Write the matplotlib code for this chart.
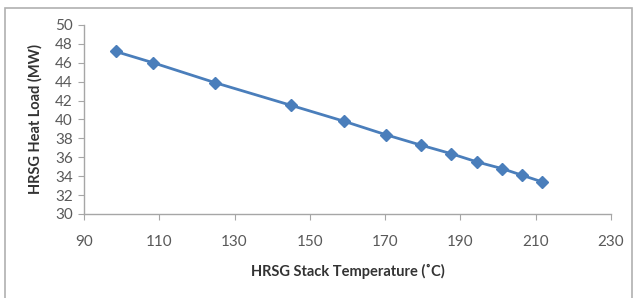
import matplotlib
matplotlib.use('Agg')
from matplotlib import pyplot as plt
from matplotlib.patches import Rectangle

# HRSG stack temperature (C) vs heat load (MW)
stack_temp = [98.4, 108.4, 124.8, 145.0, 159.2, 170.1, 179.4, 187.4, 194.5, 201.1, 206.4, 211.7]
heat_load = [47.2, 46.0, 43.9, 41.5, 39.8, 38.4, 37.3, 36.4, 35.5, 34.8, 34.1, 33.4]

x_ticks = [90, 110, 130, 150, 170, 190, 210, 230]
y_ticks = [30, 32, 34, 36, 38, 40, 42, 44, 46, 48, 50]

plt.rcParams['font.family'] = ['Lato', 'DejaVu Sans']

fig = plt.figure(figsize=(6.34, 2.98), dpi=100)
fig.patch.set_facecolor('white')

# outer chart frame
fig.patches.append(Rectangle((5 / 634, -0.05), 627 / 634, 1.05 - 8 / 298,
                             transform=fig.transFigure, fill=False,
                             edgecolor='#b0b0b0', linewidth=1.2))

ax = fig.add_axes([84 / 634, 1 - 214 / 298, 527 / 634, 189 / 298])
ax.plot(stack_temp, heat_load, color='#4a7ebb', linewidth=2.0,
        marker='D', markersize=6, markerfacecolor='#4a7ebb', markeredgecolor='#4a7ebb')

ax.set_xlim(90, 230)
ax.set_ylim(30, 50)
ax.set_xticks(x_ticks)
ax.set_yticks(y_ticks)

for side in ['top', 'right']:
    ax.spines[side].set_visible(False)
for side in ['left', 'bottom']:
    ax.spines[side].set_color('#a6a6a6')
    ax.spines[side].set_linewidth(1.0)

ax.tick_params(axis='both', direction='out', color='#a6a6a6', length=4,
               labelsize=11, labelcolor='#595959')
ax.tick_params(axis='x', pad=11)
ax.tick_params(axis='y', pad=4)

ax.set_xlabel('HRSG Stack Temperature (˚C)', fontsize=10.5, fontweight='bold',
              color='#333333', labelpad=11)
ax.set_ylabel('HRSG Heat Load (MW)', fontsize=10.5, fontweight='bold',
              color='#333333', labelpad=9)

plt.savefig('out.png', dpi=100)
